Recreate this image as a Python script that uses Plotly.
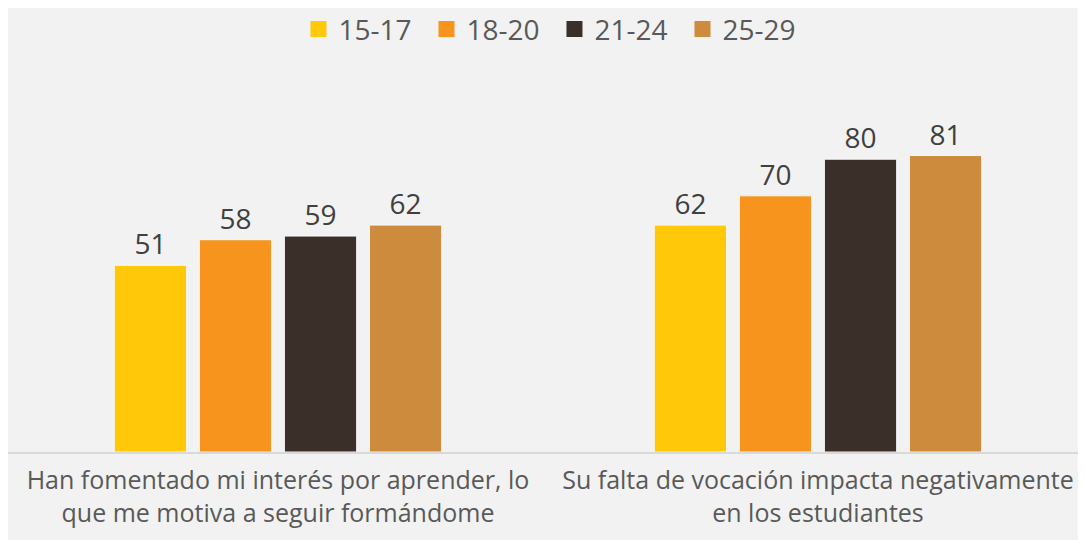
import plotly.graph_objects as go

categories = ["Han fomentado mi interés por aprender, lo<br>que me motiva a seguir formándome",
              "Su falta de vocación impacta negativamente<br>en los estudiantes"]
series = ["15-17", "18-20", "21-24", "25-29"]
values = {
    "15-17": [51, 62],
    "18-20": [58, 70],
    "21-24": [59, 80],
    "25-29": [62, 81],
}
colors = ["#FFC90A", "#F7941D", "#3A2F29", "#CD8B3E"]

fig = go.Figure()
for name, col in zip(series, colors):
    fig.add_trace(go.Bar(
        x=categories, y=values[name], name=name, showlegend=False,
        marker=dict(color=col, line=dict(color="#F7F7F7", width=1)),
        text=values[name], textposition="outside",
        textfont=dict(size=28, color="#404040"),
        cliponaxis=False,
    ))
# legend entries with square swatches
for name, col in zip(series, colors):
    fig.add_trace(go.Scatter(
        x=[None], y=[None], mode="markers", name=name,
        marker=dict(symbol="square", size=18, color=col),
    ))

fig.update_layout(
    width=1086, height=540,
    paper_bgcolor="#F2F2F2", plot_bgcolor="#F2F2F2",
    font=dict(family="Open Sans, sans-serif", color="#595959"),
    barmode="group", bargap=0.37, bargroupgap=0.15,
    margin=dict(l=0, r=6, t=78, b=96, autoexpand=False),
    showlegend=True,
    legend=dict(orientation="h", x=0.506, xanchor="center", y=1.155, yanchor="middle",
                font=dict(size=28, color="#595959"), itemwidth=30, entrywidth=83,
                traceorder="normal"),
    xaxis=dict(showline=True, linecolor="#D9D9D9", linewidth=2, ticks="",
               tickfont=dict(size=25, color="#595959"), ticklabelstandoff=5, automargin=False),
    yaxis=dict(range=[0, 100], visible=False, showgrid=False, zeroline=False),
)

fig.write_html("out.html")
